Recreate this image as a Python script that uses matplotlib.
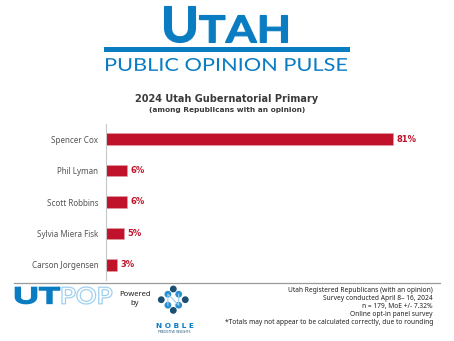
import matplotlib
matplotlib.use("Agg")
import matplotlib.pyplot as plt
from matplotlib.patches import Circle, PathPatch
from matplotlib.lines import Line2D
from matplotlib.textpath import TextPath
from matplotlib.font_manager import FontProperties
from matplotlib.transforms import Affine2D

# data
candidates = ["Spencer Cox", "Phil Lyman", "Scott Robbins", "Sylvia Miera Fisk", "Carson Jorgensen"]
support = [81, 6, 6, 5, 3]
value_labels = ["81%", "6%", "6%", "5%", "3%"]

notes = [
    "Utah Registered Republicans (with an opinion)",
    "Survey conducted April 8\u2013 16, 2024",
    "n = 179, MoE +/- 7.32%",
    "Online opt-in panel survey",
    "*Totals may not appear to be calculated correctly, due to rounding",
]

W, H = 454, 341
blue = "#0a7cc1"
light_blue = "#9fd0ee"
dot_blue = "#2a8fd0"
navy = "#1b4f72"
red = "#c0132b"
gray_txt = "#555555"

fig = plt.figure(figsize=(W / 100, H / 100), dpi=100)
pix = Affine2D().scale(1 / W, 1 / H) + fig.transFigure


def fx(px):
    return px / W


def fy(py):
    return 1 - py / H


def fit_text(s, x0, x1, ytop, ybot, weight="bold", family="Lato", **kw):
    # draw text as a path stretched to the given pixel box (y from top)
    tp = TextPath((0, 0), s, size=100, prop=FontProperties(family=family, weight=weight))
    ext = tp.get_extents()
    sx = (x1 - x0) / ext.width
    sy = (ybot - ytop) / ext.height
    tr = Affine2D().translate(-ext.x0, -ext.y0).scale(sx, sy).translate(x0, H - ybot)
    path = tr.transform_path(tp)
    fig.add_artist(PathPatch(path, transform=pix, **kw))


# header
fit_text("U", 164.5, 195.5, 6.5, 42.5, facecolor=blue, edgecolor=blue, lw=0.8)
fit_text("TAH", 199.5, 287.5, 15.5, 42.5, facecolor=blue, edgecolor=blue, lw=0.8)
fig.add_artist(Line2D([fx(106), fx(347)], [fy(49), fy(49)], color=blue, lw=3.6))
fit_text("PUBLIC OPINION PULSE", 106, 347, 58, 71, weight="normal", color=blue, lw=0)

# titles
fig.text(fx(227), fy(102), "2024 Utah Gubernatorial Primary", color="#3a3a3a",
         fontsize=7.0, fontweight="bold", ha="center", va="baseline")
fig.text(fx(227), fy(112), "(among Republicans with an opinion)", color="#3a3a3a",
         fontsize=5.3, fontweight="bold", ha="center", va="baseline")

# bar chart
ax = fig.add_axes([fx(106), fy(280), fx(420) - fx(106), fy(124) - fy(280)])
ypos = list(range(len(candidates)))
ax.barh(ypos, support, height=0.36, color=red, edgecolor="#e0a0a8", linewidth=0.4)
ax.set_xlim(0, 314 / 3.54)
ax.set_ylim(4.48, -0.48)
ax.set_yticks(ypos)
ax.set_yticklabels(candidates, fontsize=5.8, color=gray_txt, family="Noto Sans")
ax.tick_params(axis="y", length=0, pad=5.5)
ax.set_xticks([])
for s in ["top", "right", "bottom"]:
    ax.spines[s].set_visible(False)
ax.spines["left"].set_color("#c8c8c8")
ax.spines["left"].set_linewidth(0.8)
for y, v, lab in zip(ypos, support, value_labels):
    ax.text(v + 1.0, y, lab, color=red, fontsize=6, fontweight="bold",
            va="center", ha="left")

# footer divider
fig.add_artist(Line2D([fx(14), fx(440)], [fy(282.5), fy(282.5)], color="#9a9a9a", lw=0.9))

# UTPOP logo
fit_text("UT", 15.5, 59.5, 287.5, 303.5, weight="bold", facecolor=blue,
         edgecolor=blue, lw=1.2)
fit_text("POP", 62, 112, 287, 304, weight="bold", facecolor="white",
         edgecolor=light_blue, lw=0.9)

fig.text(fx(135), fy(296), "Powered", fontsize=5.5, color="#222222",
         family="Noto Sans", ha="center", va="baseline")
fig.text(fx(135), fy(305), "by", fontsize=5.5, color="#222222",
         family="Noto Sans", ha="center", va="baseline")

# Noble dots
cx, cy = 173.3, 299.7
dots = [(0, -10.7, navy), (-5.4, -5.5, dot_blue), (5.4, -5.5, dot_blue),
        (-12, 0, navy), (12, 0, navy), (-5.4, 5.5, dot_blue), (5.4, 5.5, dot_blue),
        (0, 10.7, navy)]
n_path = [(-5.4, 5.5), (-5.4, -5.5), (5.4, 5.5), (5.4, -5.5)]
fig.add_artist(Line2D([fx(cx + a) for a, b in n_path], [fy(cy + b) for a, b in n_path],
                      color=light_blue, lw=0.8))
for dx, dy, c in dots:
    fig.add_artist(Circle((cx + dx, H - (cy + dy)), 2.7, color=c, transform=pix))
fig.text(fx(174.5), fy(328), "N O B L E", color=blue, fontsize=5.3, fontweight="bold",
         ha="center", va="baseline")
fig.text(fx(174.5), fy(333), "PREDICTIVE INSIGHTS", color=navy, fontsize=2.2,
         ha="center", va="baseline")

# notes
for i, t in enumerate(notes):
    fig.text(fx(433), fy(292 + i * 8.1), t, fontsize=4.8, color="#222222",
             family="Noto Sans", ha="right", va="baseline")

fig.savefig("out.png", dpi=100)
